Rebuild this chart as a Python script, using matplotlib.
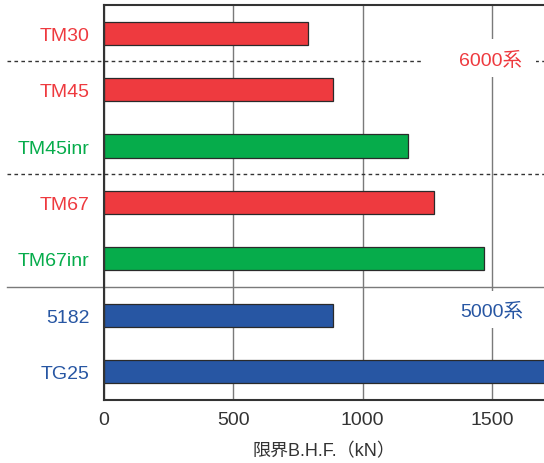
import matplotlib
matplotlib.use("Agg")
import matplotlib.pyplot as plt
from matplotlib.patches import Rectangle

# Limit blank holding force per die / alloy
labels = ["TM30", "TM45", "TM45inr", "TM67", "TM67inr", "5182", "TG25"]
values = [788, 885, 1176, 1274, 1470, 885, 1750]
groups = ["6000", "6000", "inr", "6000", "inr", "5000", "5000"]

xticks = [0, 500, 1000, 1500]
xlabel = "限界B.H.F.（kN）"
group_notes = {"6000": "6000系", "5000": "5000系"}

RED = "#EE3A3F"
GREEN = "#06AC4B"
BLUE = "#2756A3"
color_of = {"6000": RED, "inr": GREEN, "5000": BLUE}
DARK = "#333333"
GRID = "#7a7a7a"

FONT = ["Liberation Sans", "Noto Sans CJK JP", "DejaVu Sans"]
plt.rcParams["font.family"] = FONT

fig = plt.figure(figsize=(5.44, 4.64), dpi=100)
ax = fig.add_axes([0.1906, 0.1358, 0.8094, 0.8513])

ypos = list(range(len(labels)))
colors = [color_of[g] for g in groups]
ax.barh(ypos, values, height=0.41, color=colors, edgecolor="#2a2a2a",
        linewidth=0.9, zorder=3)

ax.set_xlim(0, 1700)
ax.set_ylim(len(labels) - 0.5, -0.5)

ax.set_xticks(xticks)
ax.set_xticklabels([str(t) for t in xticks])
ax.set_yticks(ypos)
ax.set_yticklabels(labels)
ax.tick_params(axis="both", length=0)
ax.tick_params(axis="y", pad=10, labelsize=14)
ax.tick_params(axis="x", pad=8, labelsize=14, labelcolor=DARK)
for tl, c in zip(ax.get_yticklabels(), colors):
    tl.set_color(c)

ax.xaxis.grid(True, color=GRID, linewidth=1.0, zorder=0)
ax.set_axisbelow(True)

for side in ("left", "top", "bottom"):
    ax.spines[side].set_color(DARK)
    ax.spines[side].set_linewidth(1.5)
    ax.spines[side].set_zorder(5)
ax.spines["right"].set_visible(False)

ax.set_xlabel(xlabel, fontsize=13, color=DARK, labelpad=10)

# group separators, reaching into the label column
ytrans = ax.get_yaxis_transform()
x0 = -0.22
for yy in (0.5, 2.5):
    ax.plot([x0, 1], [yy, yy], transform=ytrans, color=DARK, linewidth=1.0,
            linestyle=(0, (2.6, 2.4)), clip_on=False, zorder=2)
ax.plot([x0, 1], [4.5, 4.5], transform=ytrans, color=GRID, linewidth=1.0,
        clip_on=False, zorder=2)

# group notes on white patches
ax.add_patch(Rectangle((1228, 0.11), 440, 0.67, facecolor="white",
                       edgecolor="none", zorder=2.5))
ax.text(1495, 0.47, group_notes["6000"], color=RED, fontsize=14,
        ha="center", va="center", zorder=4)
ax.add_patch(Rectangle((1250, 4.56), 440, 0.66, facecolor="white",
                       edgecolor="none", zorder=2.5))
ax.text(1498, 4.93, group_notes["5000"], color=BLUE, fontsize=14,
        ha="center", va="center", zorder=4)

fig.savefig("out.png", dpi=100)
